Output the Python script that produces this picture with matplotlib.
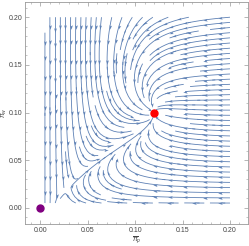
import numpy as np
import matplotlib.pyplot as plt
from matplotlib.path import Path

plt.rcParams['font.family'] = ['Liberation Sans', 'DejaVu Sans']
plt.rcParams['mathtext.fontset'] = 'custom'
plt.rcParams['mathtext.it'] = 'Liberation Sans:italic'

# fixed points
origin_pt = (0.0, 0.0)
stable_pt = (0.12, 0.10)
saddle_pt = (0.03, 0.02)

x_ticks = [0.00, 0.05, 0.10, 0.15, 0.20]
y_ticks = [0.00, 0.05, 0.10, 0.15, 0.20]
x_rng = (0.005, 0.2)
y_rng = (0.005, 0.2)

# nullclines: straight line through saddle and stable point, bent by a bump
slope = (stable_pt[1] - saddle_pt[1]) / (stable_pt[0] - saddle_pt[0])
bend_g, bend_f, kx = 5.0, 15.0, 120.0

def g_null(x):
    return (saddle_pt[1] + slope * (x - saddle_pt[0])
            + bend_g * (x - saddle_pt[0]) * (stable_pt[0] - x))

def f_null(y):
    return (saddle_pt[0] + (y - saddle_pt[1]) / slope
            + bend_f * (y - saddle_pt[1]) * (stable_pt[1] - y))

xs = np.linspace(*x_rng, 150)
ys = np.linspace(*y_rng, 150)
X, Y = np.meshgrid(xs, ys)
U = kx * X**3 * (f_null(Y) - X)
V = Y * (g_null(X) - Y)

fig = plt.figure(figsize=(2.49, 2.46), dpi=100)
ax = fig.add_axes([0.1004, 0.0894, 0.8956, 0.9026])
blue = '#5E81B5'
sp = ax.streamplot(X, Y, U, V, density=1.25, color=blue, linewidth=0.6,
                   arrowstyle='-')

ax.set_xlim(-0.016, 0.219)
ax.set_ylim(-0.017, 0.216)

# each streamline comes back as one polyline; put arrowheads along it
head = np.array([[1, 0], [-1, 0.6], [-0.5, 0], [-1, -0.6], [1, 0]])
step = 0.0175
for pts in sp.lines.get_segments():
    d = np.r_[0, np.cumsum(np.hypot(*np.diff(pts, axis=0).T))]
    if d[-1] < step * 0.6:
        continue
    for s0 in np.arange(step / 2, d[-1], step):
        i = min(max(np.searchsorted(d, s0), 1), len(pts) - 1)
        p0, p1 = ax.transData.transform(pts[[i - 1, i]])
        ang = np.arctan2(p1[1] - p0[1], p1[0] - p0[0])
        c, s = np.cos(ang), np.sin(ang)
        verts = head @ np.array([[c, s], [-s, c]])
        ax.plot(pts[i][0], pts[i][1], marker=Path(verts), ms=3.4,
                color=blue, mew=0, zorder=3)

ax.plot(*origin_pt, 'o', color='#800080', ms=5, zorder=5)
ax.plot(*stable_pt, 'o', color='#FF0000', ms=5, zorder=5)

ax.set_xticks(x_ticks)
ax.set_yticks(y_ticks)
ax.set_xticklabels(['%.2f' % t for t in x_ticks])
ax.set_yticklabels(['%.2f' % t for t in y_ticks])
ax.set_xticks(np.arange(-0.01, 0.22, 0.01), minor=True)
ax.set_yticks(np.arange(-0.01, 0.22, 0.01), minor=True)
ax.tick_params(which='both', direction='in', top=True, right=True,
               color='#999999', labelsize=5, labelcolor='#444444', pad=2)
ax.tick_params(which='major', length=3, width=0.5)
ax.tick_params(which='minor', length=1.5, width=0.4)
for s in ax.spines.values():
    s.set_color('#999999')
    s.set_linewidth(0.6)
ax.set_xlabel(r'$\overline{\pi}_p$', fontsize=5, color='#444444')
ax.set_ylabel(r'$\overline{\pi}_w$', fontsize=5, color='#444444')
ax.xaxis.set_label_coords(0.5, -0.045)
ax.yaxis.set_label_coords(-0.07, 0.5)

fig.savefig('out.png', dpi=100)
